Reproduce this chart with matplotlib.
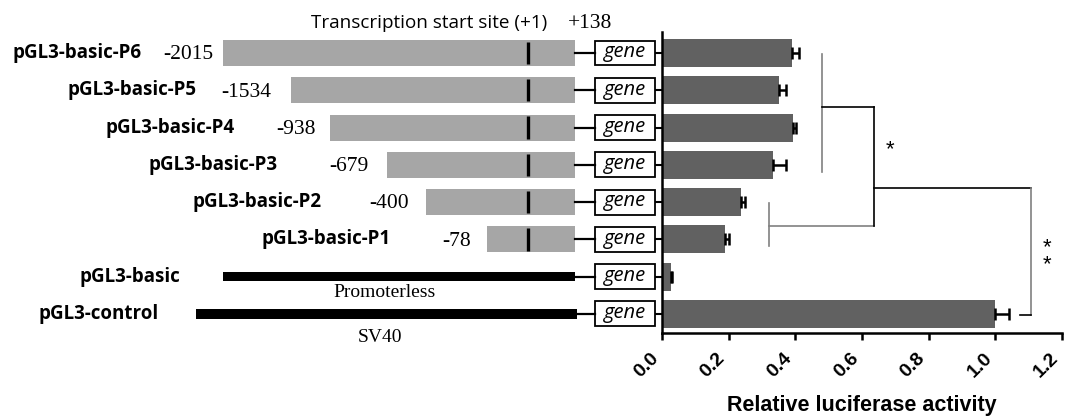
import matplotlib
matplotlib.use('Agg')
import matplotlib.pyplot as plt
from matplotlib.patches import Rectangle

# ---------------- data ----------------
constructs = ['pGL3-basic-P6', 'pGL3-basic-P5', 'pGL3-basic-P4', 'pGL3-basic-P3',
              'pGL3-basic-P2', 'pGL3-basic-P1', 'pGL3-basic', 'pGL3-control']
activity = [0.39, 0.352, 0.392, 0.334, 0.237, 0.19, 0.026, 1.0]
error = [0.02, 0.02, 0.01, 0.037, 0.012, 0.011, 0.004, 0.04]
promoter_starts = ['-2015', '-1534', '-938', '-679', '-400', '-78']
xticks = [0.0, 0.2, 0.4, 0.6, 0.8, 1.0, 1.2]

# ---------------- layout (schematic, pixel-like units) ----------------
bar_left = [223, 291, 330, 387, 426, 487]
label_right = [142, 197, 235, 278, 322, 391, 180, 159]
num_right = [213, 271, 316, 368, 409, 471]
bar_end = 575
tss_x = 527.7
box_left, box_w = 595, 60

W, H = 1067, 416
fig = plt.figure(figsize=(W / 100, H / 100), dpi=100)
ax = fig.add_axes([662 / W, (H - 333) / H, 400 / W, 301 / H])
axl = fig.add_axes([0, (H - 333) / H, 662 / W, 301 / H])
ylim = (7.51, -0.563)
axl.set_xlim(0, 662)
axl.set_ylim(*ylim)
axl.axis('off')

rows = list(range(len(constructs)))
SANS = ['Open Sans', 'DejaVu Sans']
SERIF = ['Liberation Serif', 'DejaVu Serif']
ARIAL = ['Liberation Sans', 'DejaVu Sans']

# ---------------- right bar chart ----------------
ax.barh(rows, activity, height=0.75, color='#616161', zorder=2)
ax.errorbar(activity, rows, xerr=[[0] * len(error), error], fmt='none', ecolor='black',
            elinewidth=1.8, capsize=4, capthick=1.8, zorder=3)
ax.set_xlim(0, 1.2)
ax.set_ylim(*ylim)
ax.set_yticks(rows)
ax.set_yticklabels([])
ax.tick_params(axis='y', length=5, width=1.5, direction='out')
ax.set_xticks(xticks)
ax.set_xticklabels([f'{v:.1f}' for v in xticks], rotation=45, ha='right', va='top',
                   fontweight='bold', fontsize=14, family=ARIAL)
ax.tick_params(axis='x', length=5, width=1.8, pad=7)
for s in ['top', 'right']:
    ax.spines[s].set_visible(False)
for s in ['left', 'bottom']:
    ax.spines[s].set_linewidth(1.8)
fig.text(862 / W, 1 - 405 / H, 'Relative luciferase activity', ha='center', va='center',
         fontsize=15.5, fontweight='bold', family=ARIAL)

# significance brackets
grey = '#808080'
kw = dict(clip_on=False, lw=1.2)
ax.plot([0.479, 0.479], [0.03, 3.19], color=grey, **kw)
ax.plot([0.479, 0.637], [1.45, 1.45], color='black', **kw)
ax.plot([0.322, 0.322], [4.02, 5.18], color=grey, **kw)
ax.plot([0.322, 0.637], [4.64, 4.64], color=grey, **kw)
ax.plot([0.637, 0.637], [1.45, 4.64], color='black', **kw)
ax.plot([0.637, 1.106], [3.62, 3.62], color='black', **kw)
ax.plot([1.106, 1.106], [3.62, 7.03], color=grey, **kw)
ax.plot([1.074, 1.106], [7.03, 7.03], color='black', **kw)
ax.text(0.684, 2.6, '*', ha='center', va='center', fontsize=16, family=ARIAL)
ax.text(1.154, 5.45, '*\n*', ha='center', va='center', fontsize=16, family=ARIAL,
        linespacing=0.75)

# ---------------- left schematic ----------------
for i, start in enumerate(bar_left):
    axl.add_patch(Rectangle((start, i - 0.35), bar_end - start, 0.70, color='#A6A6A6', lw=0))
    axl.plot([tss_x, tss_x], [i - 0.3, i + 0.3], color='black', lw=2.4, solid_capstyle='butt')
    axl.text(num_right[i], i + 0.05, promoter_starts[i], ha='right', va='center',
             fontsize=15.5, family=SERIF)

axl.add_patch(Rectangle((223, 6 - 0.125), bar_end - 223, 0.25, color='black', lw=0))
axl.add_patch(Rectangle((196, 7 - 0.135), bar_end + 2 - 196, 0.27, color='black', lw=0))

for i in rows:
    axl.plot([bar_end, box_left], [i, i], color='black', lw=1.6)
    axl.add_patch(Rectangle((box_left, i - 0.335), box_w, 0.67, facecolor='white',
                            edgecolor='black', lw=1.3))
    axl.text(box_left + box_w / 2, i - 0.02, 'gene', ha='center', va='center',
             fontsize=14.5, style='italic', family=SANS)
    axl.text(label_right[i], i, constructs[i], ha='right', va='center',
             fontsize=13.5, fontweight='bold', family=SANS)

axl.text(429, -0.80, 'Transcription start site (+1)', ha='center', va='center',
         fontsize=13.6, family=SANS, clip_on=False)
axl.text(590, -0.80, '+138', ha='center', va='center', fontsize=15.5, family=SERIF, clip_on=False)
axl.text(385, 6.43, 'Promoterless', ha='center', va='center', fontsize=14, family=SERIF, clip_on=False)
axl.text(380, 7.62, 'SV40', ha='center', va='center', fontsize=14, family=SERIF, clip_on=False)

fig.savefig('out.png', dpi=100)
